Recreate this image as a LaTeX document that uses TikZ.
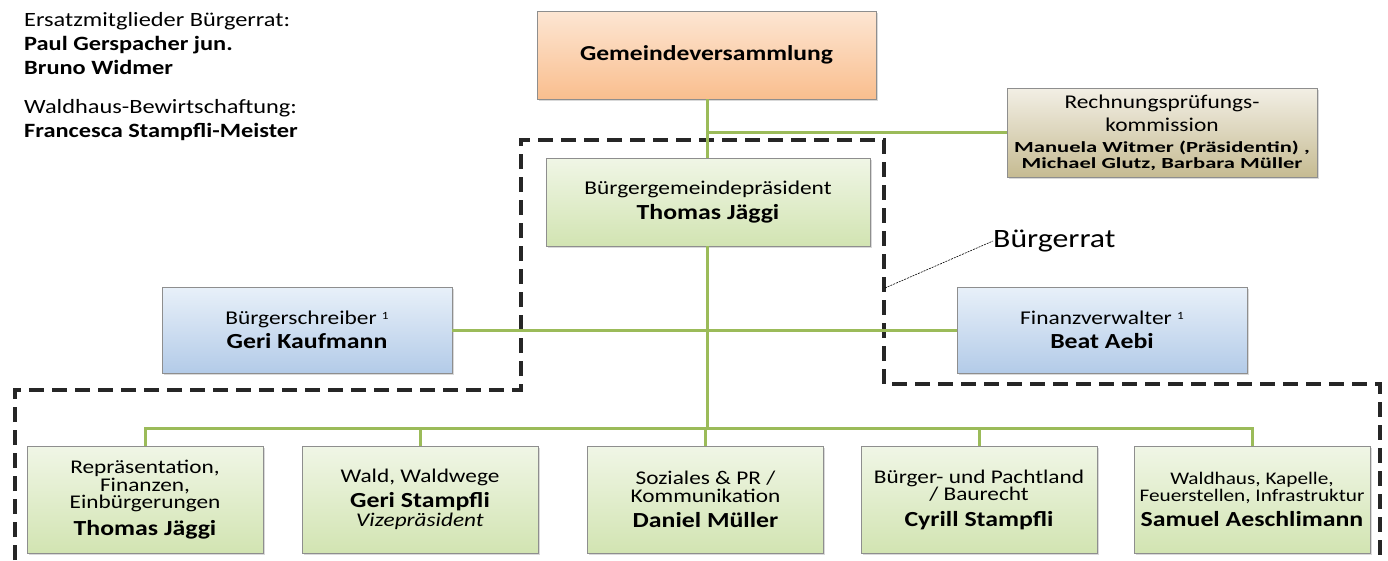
\documentclass[tikz,border=0pt]{standalone}
\usepackage{fontspec}
\setmainfont{Carlito}[FakeStretch=1.2]
\usetikzlibrary{shadows}
\definecolor{lineg}{HTML}{9BBB59}
\definecolor{orT}{HTML}{FDE6D3}
\definecolor{orB}{HTML}{F9BE8E}
\definecolor{grT}{HTML}{F0F6E6}
\definecolor{grB}{HTML}{D2E4B2}
\definecolor{blT}{HTML}{E8F0F9}
\definecolor{blB}{HTML}{B3CBE8}
\definecolor{tnT}{HTML}{F2EFE5}
\definecolor{tnB}{HTML}{C6BB92}
\definecolor{bord}{HTML}{8E8E8E}
\newcommand\myfs[2]{\fontsize{#1}{#2}\selectfont}
\newcommand\nm[1]{{\bfseries\myfs{21.5}{18}#1}}
\newcommand\supone{\raisebox{5.5pt}{\myfs{11}{11}1}}
\tikzset{
  box/.style={draw=bord, line width=0.8pt, inner sep=0pt, align=center,
    drop shadow={shadow xshift=1.5pt, shadow yshift=-2pt, opacity=0.3}},
  obox/.style={box, top color=orT, bottom color=orB},
  gbox/.style={box, top color=grT, bottom color=grB},
  bbox/.style={box, top color=blT, bottom color=blB},
  tbox/.style={box, top color=tnT, bottom color=tnB},
  bot/.style={gbox, minimum width=236pt, minimum height=107pt, font=\myfs{19.4}{17.5}},
  conn/.style={draw=lineg, line width=3pt},
  grp/.style={draw=black!85, line width=3.5pt, dash pattern=on 15pt off 8pt},
}
\begin{document}
\begin{tikzpicture}[x=1pt,y=-1pt]
\useasboundingbox (0,0) rectangle (1388,560);
% group outline (Buergerrat)
\draw[grp] (15,560) -- (15,390) -- (521,390) -- (521,140) -- (884,140) -- (884,384) -- (1380,384) -- (1380,560);
% top-left text
\node[anchor=north west, align=left, inner sep=0pt, font=\myfs{20.3}{24}] (ersatz) at (24,12)
  {Ersatzmitglieder Bürgerrat:\\
   \textbf{Paul Gerspacher jun.}\\
   \textbf{Bruno Widmer}\\[15pt]
   Waldhaus-Bewirtschaftung:\\
   \textbf{Francesca Stampfli-Meister}};
% boxes
\node[obox, minimum width=339pt, minimum height=88pt, font=\myfs{21.3}{25}\bfseries] (gv) at (706.5,55)
  {Gemeindeversammlung};
\node[gbox, minimum width=324pt, minimum height=88pt, font=\myfs{19.5}{25}] (bgp) at (708,202)
  {Bürgergemeindepräsident\\ \nm{Thomas Jäggi}};
\node[tbox, minimum width=310pt, minimum height=89pt, font=\myfs{19.5}{23}] (rpk) at (1162,132.5)
  {Rechnungsprüfungs-\\ kommission\\[-2pt]
   \scalebox{1}[0.82]{\bfseries\myfs{18.8}{15}Manuela Witmer (Präsidentin) ,}\\[-7pt]
   \scalebox{1}[0.82]{\bfseries\myfs{18.8}{15}Michael Glutz, Barbara Müller}};
\node[bbox, minimum width=290pt, minimum height=86pt, font=\myfs{19.5}{24}] (bs) at (307,330)
  {Bürgerschreiber \supone\\ \nm{Geri Kaufmann}};
\node[bbox, minimum width=290pt, minimum height=86pt, font=\myfs{19.5}{24}] (fv) at (1102,330)
  {Finanzverwalter \supone\\ \nm{Beat Aebi}};
\node[bot] (b1) at (145,499.5)
  {Repräsentation,\\ Finanzen,\\ Einbürgerungen\\[7pt] \nm{Thomas Jäggi}};
\node[bot, font=\myfs{19.4}{19}] (b2) at (420,499.5)
  {Wald, Waldwege\\[6pt] \nm{Geri Stampfli}\\ \textit{Vizepräsident}};
\node[bot] (b3) at (705.5,499.5)
  {Soziales \& PR /\\ Kommunikation\\[8pt] \nm{Daniel Müller}};
\node[bot] (b4) at (979,499.5)
  {Bürger- und Pachtland\\ / Baurecht\\[8pt] \nm{Cyrill Stampfli}};
\node[bot, font=\myfs{17.7}{17}] (b5) at (1252,499.5)
  {Waldhaus, Kapelle,\\ Feuerstellen, Infrastruktur\\[6pt] \nm{Samuel Aeschlimann}};
% label
\node[anchor=west, inner sep=0pt, font=\myfs{26.5}{28}] (br) at (993,241) {Bürgerrat};
\coordinate (brp) at (885,288);
\draw[line width=0.6pt, dash pattern=on 2pt off 1pt] (brp) -- (br.west);
% connectors
\coordinate (jr) at (707,132.5);
\coordinate (bus) at (707,428);
\draw[conn] (gv.south -| jr) -- (bgp.north -| jr);
\draw[conn] (jr) -- (rpk.west);
\draw[conn] (bgp.south -| bus) -- (bus);
\draw[conn] (bs.east) -- (fv.west);
\draw[conn] (b1.north) |- (bus);
\draw[conn] (b5.north) |- (bus);
\foreach \b in {b2,b3,b4} \draw[conn] (\b.north) -- (\b.north |- bus);
\end{tikzpicture}
\end{document}
